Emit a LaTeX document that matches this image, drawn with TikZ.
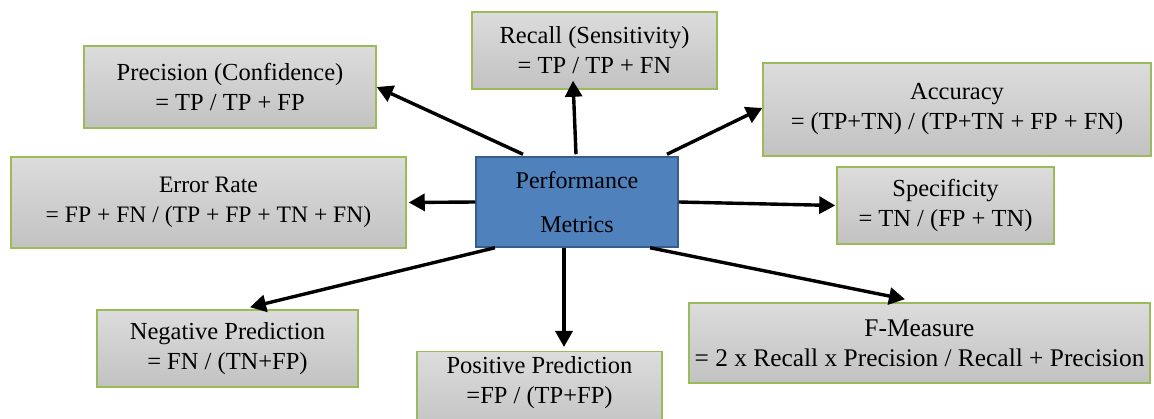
\documentclass[tikz,border=0pt]{standalone}
\usepackage{fontspec}
\setmainfont{Liberation Serif}
\usetikzlibrary{arrows.meta}
\definecolor{boxgreen}{HTML}{9BBB59}
\definecolor{boxtop}{HTML}{DCDCDC}
\definecolor{boxbot}{HTML}{C2C2C2}
\definecolor{pmfill}{HTML}{4F81BD}
\definecolor{pmdraw}{HTML}{385D8A}
\begin{document}
\begin{tikzpicture}[x=1pt,y=-1pt,
  metric/.style={draw=boxgreen,line width=1.5pt,top color=boxtop,bottom color=boxbot,
    align=center,inner sep=0pt,font=\fontsize{24.5}{30}\selectfont},
  central/.style={draw=pmdraw,line width=1.5pt,fill=pmfill,align=center,inner sep=0pt,
    font=\fontsize{24}{44}\selectfont},
  arr/.style={line width=3.4pt,-{Triangle[length=16pt,width=17pt]}}]
\useasboundingbox (0,0) rectangle (1154,419);
\node[central,minimum width=202pt,minimum height=90pt] (pm) at (577,202) {Performance\\Metrics};
\node[metric,minimum width=292pt,minimum height=82pt] (prec) at (230,87) {Precision (Confidence)\\= TP / TP + FP};
\node[metric,minimum width=245pt,minimum height=77pt] (rec) at (594.5,50.5) {Recall (Sensitivity)\\= TP / TP + FN};
\node[metric,minimum width=388pt,minimum height=93pt] (acc) at (957,109.5) {Accuracy\\= (TP+TN) / (TP+TN + FP + FN)};
\node[metric,minimum width=395pt,minimum height=91pt,font=\fontsize{23.6}{30}\selectfont] (err) at (208.5,202.5) {Error Rate\\= FP + FN / (TP + FP + TN + FN)};
\node[metric,minimum width=217pt,minimum height=77pt] (spec) at (945.5,205.5) {Specificity\\= TN / (FP + TN)};
\node[metric,minimum width=261pt,minimum height=77pt] (neg) at (227.5,348.5) {Negative Prediction\\= FN / (TN+FP)};
\node[metric,minimum width=245pt,anchor=north] (pos) at (539.5,351) {\rule{0pt}{22pt}Positive Prediction\\=FP / (TP+FP)\rule[-30pt]{0pt}{0pt}};
\node[metric,minimum width=461pt,minimum height=80pt,font=\fontsize{25.4}{30}\selectfont] (fm) at (919.5,343) {F-Measure\\= 2 x Recall x Precision / Recall + Precision};
\draw[arr] ([xshift=-54pt,yshift=2pt]pm.north) -- (prec.east);
\draw[arr] ([xshift=-1pt,yshift=2pt]pm.north) -- ([xshift=-21.5pt,yshift=9pt]rec.south);
\draw[arr] ([xshift=90pt,yshift=2pt]pm.north) -- ([yshift=1.5pt]acc.west);
\draw[arr] (pm.west) -- ([xshift=2pt]err.east);
\draw[arr] (pm.east) -- ([xshift=-1pt]spec.west);
\draw[arr] ([xshift=-82pt]pm.south) -- ([xshift=22.5pt,yshift=2pt]neg.north);
\draw[arr] ([xshift=-13pt]pm.south) -- ([xshift=24.5pt,yshift=4pt]pos.north);
\draw[arr] ([xshift=73pt]pm.south) -- ([xshift=-14.5pt,yshift=3pt]fm.north);
\end{tikzpicture}
\end{document}
